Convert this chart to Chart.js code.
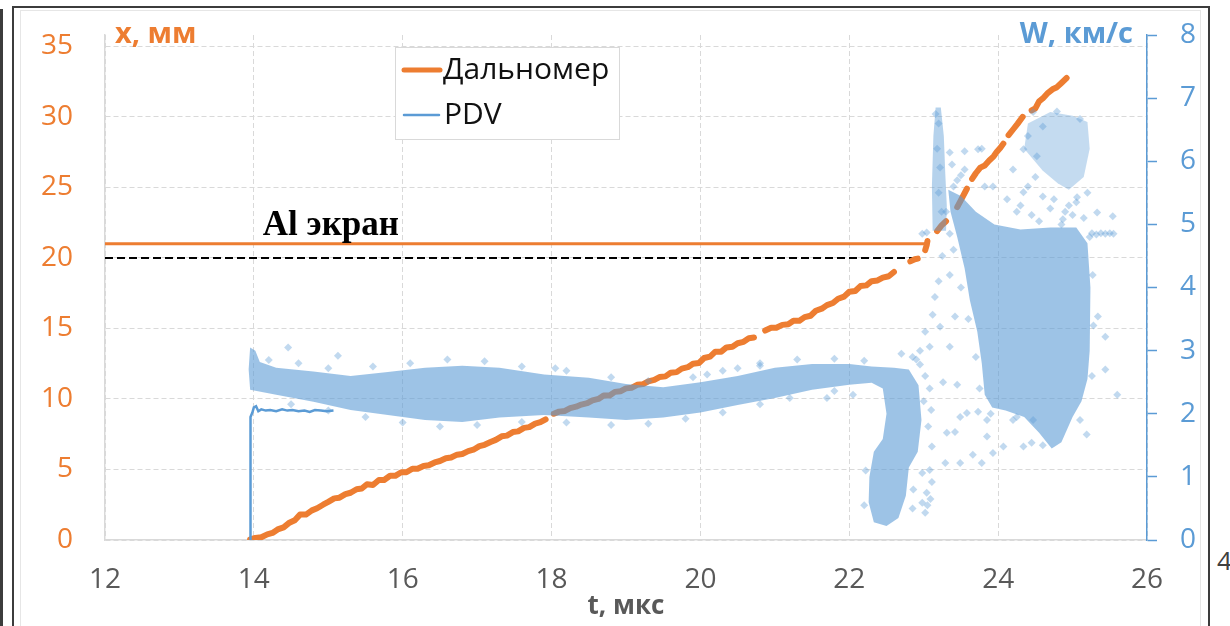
<!DOCTYPE html>
<html>
<head>
<meta charset="utf-8">
<script src="https://cdn.jsdelivr.net/npm/chart.js@4.4.1/dist/chart.umd.min.js"></script>
<style>
  html, body { margin: 0; padding: 0; background: #fff; width: 1230px; height: 626px; overflow: hidden; position: relative; }
  .edge { position: absolute; background: #3c3c3c; }
  #chart { position: absolute; left: 0; top: 0; }
</style>
</head>
<body>
<div class="edge" style="left:0;top:9px;width:3px;height:617px"></div>
<div class="edge" style="left:12px;top:6px;width:2px;height:620px"></div>
<div class="edge" style="left:12px;top:6px;width:1198px;height:2px"></div>
<div class="edge" style="left:1208px;top:6px;width:2px;height:620px"></div>
<div style="position:absolute;left:20px;top:10px;width:1179px;height:616px;border:1px solid #e6e6e6;border-bottom:none"></div>
<div style="position:absolute;left:1217px;top:542px;font:26px 'Open Sans';color:#404040">4</div>
<canvas id="chart" width="1230" height="626"></canvas>
<script>
const ORANGE = '#ED7D31';
const BLUE = '#5B9BD5';

// Дальномер: t (мкс) -> x (мм); null = gap in the record
const rangeT = [13.95,14.02,14.1,14.18,14.25,14.32,14.4,14.47,14.55,14.62,14.7,14.78,14.85,14.93,15.0,15.08,15.15,15.23,15.3,15.38,15.45,15.52,15.6,15.68,15.75,15.83,15.9,15.98,16.05,16.13,16.2,16.28,16.35,16.43,16.5,16.58,16.65,16.73,16.8,16.88,16.95,17.03,17.1,17.18,17.25,17.33,17.4,17.48,17.55,17.63,17.7,17.78,17.85,17.92,17.97,
  18.03,18.1,18.18,18.25,18.33,18.4,18.48,18.55,18.63,18.7,18.78,18.85,18.93,19.0,19.08,19.15,19.23,19.3,19.38,19.45,19.53,19.6,19.68,19.75,19.83,19.9,19.98,20.05,20.13,20.2,20.28,20.35,20.43,20.5,20.58,20.65,20.72,20.8,
  20.87,20.95,21.02,21.1,21.18,21.25,21.33,21.4,21.48,21.55,21.63,21.7,21.78,21.85,21.93,22.0,22.08,22.15,22.23,22.3,22.38,22.45,22.53,22.6,22.7,
  22.82,22.88,22.92,22.97,23.02,23.04,23.05,23.1,23.18,23.24,23.3,23.38,23.45,23.5,23.55,23.58,23.62,
  23.65,23.7,23.76,23.82,23.88,23.94,23.98,24.03,24.07,24.1,24.14,24.2,24.26,24.33,24.4,24.45,24.5,24.55,24.6,24.67,24.73,24.79,24.85,24.92];
const rangeX = [0.05,0.15,0.2,0.4,0.5,0.75,0.9,1.2,1.4,1.8,1.8,2.1,2.25,2.5,2.7,2.95,3.0,3.25,3.35,3.6,3.65,3.95,3.9,4.25,4.25,4.55,4.55,4.8,4.8,5.05,5.05,5.25,5.3,5.5,5.6,5.8,5.85,6.05,6.1,6.3,6.4,6.65,6.75,6.95,7.1,7.35,7.4,7.65,7.7,7.95,8.0,8.25,8.35,8.55,null,
  8.95,9.1,9.15,9.35,9.45,9.6,9.7,9.9,10.0,10.25,10.25,10.5,10.55,10.75,10.8,11.0,11.05,11.25,11.35,11.55,11.6,11.85,11.9,12.15,12.25,12.5,12.55,12.9,13.0,13.35,13.35,13.65,13.7,13.95,14.05,14.3,14.35,null,
  14.85,15.05,15.05,15.25,15.3,15.55,15.55,15.8,15.9,16.25,16.4,16.65,16.8,17.1,17.25,17.6,17.65,18.0,18.05,18.35,18.4,18.6,18.7,19.0,null,
  19.75,19.9,19.95,null,20.55,20.9,21.2,null,21.9,22.3,22.6,null,23.6,24.1,24.6,24.9,null,
  25.6,26.0,26.4,26.55,26.9,27.2,27.5,27.8,28.1,null,28.7,29.1,29.5,30.0,null,30.45,30.6,31.1,31.3,31.7,31.95,32.1,32.4,32.75];

// PDV: t (мкс) -> W (км/с)
const pdvT = [13.95,13.95,13.96,13.98,14.0,14.03,14.06,14.1,14.16,14.22,14.3,14.38,14.45,14.52,14.6,14.68,14.75,14.82,14.9,14.98,15.07];
const pdvW = [0,1.85,1.95,2.02,2.1,2.12,2.04,2.07,2.05,2.06,2.04,2.07,2.05,2.06,2.04,2.05,2.03,2.06,2.05,2.04,2.05];

// Al экран level and the 20 mm reference
const screenT = [12, 23.03];
const screenX = [21, 21];
const refT = [12, 22.95];
const refX = [20, 20];

// spectrogram cloud outlines (t, W)
const bandT = [13.95,13.93,13.95,14.02,14.08,14.3,14.8,15.3,15.8,16.3,16.8,17.3,17.9,18.5,19.0,19.5,20.0,20.5,21.0,21.5,22.0,22.3,22.6,22.8,22.93,22.97,22.92,22.8,22.76,22.66,22.5,22.33,22.26,22.27,22.33,22.45,22.5,22.45,22.3,22.0,21.5,21.0,20.5,20.0,19.5,19.0,18.5,17.9,17.3,16.8,16.3,15.8,15.3,14.8,14.3];
const bandW = [2.38,2.7,3.05,3.0,2.82,2.73,2.67,2.6,2.66,2.73,2.76,2.73,2.62,2.57,2.47,2.42,2.5,2.6,2.73,2.79,2.79,2.75,2.73,2.7,2.45,1.9,1.4,1.15,0.7,0.35,0.22,0.28,0.6,1.0,1.4,1.6,2.0,2.4,2.49,2.46,2.38,2.25,2.14,2.02,1.94,1.9,1.94,1.98,1.94,1.87,1.9,1.98,2.06,2.19,2.3];
const denseT = [23.33,23.5,23.7,23.95,24.3,24.7,25.05,25.2,25.24,25.23,25.2,25.12,25.0,24.85,24.72,24.55,24.35,24.1,23.92,23.82,23.78,23.72,23.62,23.55,23.45,23.36];
const denseW = [5.55,5.45,5.2,5.0,4.92,4.95,4.95,4.7,4.0,3.0,2.55,2.2,1.95,1.55,1.45,1.7,1.95,2.05,2.1,2.3,2.8,3.3,3.8,4.3,4.8,5.2];
const upperT = [24.4,24.7,25.0,25.2,25.23,25.15,24.95,24.8,24.6,24.35];
const upperW = [6.6,6.78,6.72,6.62,6.2,5.75,5.55,5.65,5.85,6.2];
const spikeT = [23.12,23.11,23.13,23.16,23.23,23.27,23.29,23.31,23.3];
const spikeW = [4.9,5.6,6.4,6.85,6.85,6.4,5.8,5.3,4.9];

// loose spectrogram points (t, W)
const looseT = [14.2,14.6,15.0,15.6,16.1,16.6,17.1,17.6,18.2,18.8,19.3,19.9,20.3,20.8,21.3,21.8,22.2,
  14.5,15.0,15.5,16.0,16.5,17.0,17.6,18.2,18.8,19.3,19.8,20.3,20.8,21.2,21.8,
  14.46,15.13,18.05,20.09,20.5,20.8,21.7,22.05,
  22.7,22.85,22.95,23.02,23.08,23.0,23.1,23.06,23.11,23.08,23.11,23.04,22.98,23.02,22.98,23.05,23.09,22.86,22.85,22.2,22.22,
  22.9,22.95,23.08,23.02,23.22,23.12,23.42,23.35,23.26,23.45,23.49,23.58,23.73,23.85,23.31,23.42,23.85,23.66,23.93,23.29,23.49,23.78,24.07,24.34,24.45,24.25,24.47,25.19,25.44,25.6,25.44,25.34,23.2,23.15,23.25,23.35,
  22.98,23.04,23.35,25.26,25.32,25.38,25.44,25.5,25.55,25.54,25.33,
  23.35,23.55,23.73,23.78,23.55,23.38,23.82,23.93,24.2,24.12,24.34,24.52,24.47,24.79,25.1,25.06,24.87,24.5,24.34,24.6,24.25,24.7,24.95,25.15,24.4,24.6,23.45,23.4,23.5,
  23.6,23.7,23.75,23.9,24.2,24.6,25.1,25.26,25.28,25.27,25.23,23.5,23.4,23.3,24.3,24.45,24.75,24.9,25.05,25.2,24.55,24.85,25.0,24.4,
  23.2,23.18,23.22,23.2,23.24,23.16];
const looseW = [2.85,2.8,2.72,2.75,2.8,2.86,2.83,2.75,2.68,2.58,2.52,2.58,2.68,2.8,2.86,2.87,2.84,
  2.15,2.05,1.95,1.86,1.8,1.82,1.87,1.86,1.82,1.84,1.92,2.02,2.15,2.25,2.36,
  3.05,2.92,2.72,2.62,2.72,2.76,2.25,2.3,
  2.95,2.9,2.78,2.6,2.4,2.2,2.06,1.8,1.48,1.11,0.92,0.75,0.59,0.43,1.06,0.55,0.65,0.8,0.5,0.55,1.1,
  2.86,3.0,3.06,3.3,3.38,3.57,3.54,3.06,2.5,2.46,1.95,2.01,2.03,1.9,1.7,1.71,1.64,1.35,1.38,1.22,1.22,1.22,1.48,1.48,1.54,1.95,1.9,1.67,2.7,2.3,3.22,3.54,4.1,3.85,4.5,4.2,
  4.85,4.87,4.85,4.86,4.84,4.86,4.85,4.86,4.85,5.13,5.19,
  6.14,6.16,6.19,6.2,5.87,5.95,5.6,5.6,5.87,5.4,6.19,6.08,6.78,6.79,6.67,5.43,5.08,5.75,5.51,5.44,5.2,5.25,5.3,5.1,6.4,6.55,5.7,5.6,5.78,
  3.5,2.9,2.4,2.0,1.9,1.5,1.9,2.6,3.4,4.2,4.8,4.0,4.6,5.2,5.3,5.15,5.4,5.2,5.35,5.5,5.05,5.0,5.15,5.6,
  6.6,6.2,5.9,5.5,5.2,6.75];

const xTicks = [12, 14, 16, 18, 20, 22, 24, 26];

function pairs(ts, vs) {
  return ts.map((t, i) => ({ x: t, y: vs[i] }));
}

function cloud(ts, vs, alpha) {
  return {
    data: pairs(ts, vs), yAxisID: 'y1', order: 0,
    fill: 'shape', backgroundColor: 'rgba(91,155,213,' + alpha + ')',
    borderColor: 'rgba(0,0,0,0)', borderWidth: 0, pointRadius: 0
  };
}

// fixed axis box sizes; label padding must not push the plot top down
function fixWidth(w) {
  return (scale) => {
    scale.width = w;
    scale.paddingTop = 0;
    scale.paddingBottom = 0;
  };
}

// titles, screen label and the in-plot legend
const annotations = {
  id: 'annotations',
  afterDraw(chart) {
    const { ctx, chartArea, scales } = chart;
    ctx.save();
    ctx.textBaseline = 'alphabetic';
    ctx.font = 'bold 29px "Open Sans"';
    ctx.fillStyle = ORANGE;
    ctx.textAlign = 'left';
    ctx.fillText('x, мм', chartArea.left + 10, 43);
    ctx.fillStyle = BLUE;
    ctx.textAlign = 'right';
    ctx.fillText('W, км/с', chartArea.right - 14, 43);

    ctx.font = 'bold 35px "Liberation Serif"';
    ctx.fillStyle = '#000';
    ctx.textAlign = 'left';
    ctx.fillText('Al экран', scales.x.getPixelForValue(14.12), scales.y.getPixelForValue(21.6));

    ctx.fillStyle = '#fff';
    ctx.fillRect(395, 47, 224, 92);
    ctx.strokeStyle = '#D9D9D9';
    ctx.lineWidth = 1;
    ctx.strokeRect(395.5, 47.5, 224, 92);
    ctx.lineCap = 'round';
    ctx.strokeStyle = ORANGE;
    ctx.lineWidth = 5;
    ctx.beginPath(); ctx.moveTo(404, 70); ctx.lineTo(440, 70); ctx.stroke();
    ctx.strokeStyle = BLUE;
    ctx.lineWidth = 2.5;
    ctx.beginPath(); ctx.moveTo(404, 115); ctx.lineTo(439, 115); ctx.stroke();
    ctx.font = '30px "Open Sans"';
    ctx.fillStyle = '#111';
    ctx.textBaseline = 'middle';
    ctx.fillText('Дальномер', 443, 70);
    ctx.fillText('PDV', 444, 115);
    ctx.restore();
  }
};

new Chart(document.getElementById('chart').getContext('2d'), {
  type: 'line',
  data: {
    datasets: [
      cloud(bandT, bandW, 0.6),
      cloud(denseT, denseW, 0.6),
      cloud(upperT, upperW, 0.36),
      cloud(spikeT, spikeW, 0.45),
      {
        data: pairs(looseT, looseW), yAxisID: 'y1', order: 0, showLine: false,
        pointStyle: 'rectRot', pointRadius: 4, borderWidth: 0,
        backgroundColor: 'rgba(91,155,213,0.38)', pointBorderColor: 'rgba(0,0,0,0)'
      },
      {
        label: 'PDV', data: pairs(pdvT, pdvW), yAxisID: 'y1', order: 1,
        borderColor: BLUE, borderWidth: 2.5, pointRadius: 0, fill: false
      },
      {
        label: 'Дальномер', data: pairs(rangeT, rangeX), yAxisID: 'y', order: 2,
        borderColor: ORANGE, borderWidth: 6, borderCapStyle: 'round', borderJoinStyle: 'round',
        pointRadius: 0, fill: false, spanGaps: false
      },
      {
        data: pairs(screenT, screenX), yAxisID: 'y', order: 3,
        borderColor: ORANGE, borderWidth: 3, pointRadius: 0, fill: false
      },
      {
        data: pairs(refT, refX), yAxisID: 'y', order: 3,
        borderColor: '#000', borderWidth: 2, borderDash: [8, 4], pointRadius: 0, fill: false
      }
    ]
  },
  options: {
    responsive: false,
    animation: false,
    events: [],
    layout: { padding: { top: 35, left: 0, right: 0, bottom: 0 } },
    plugins: { legend: { display: false }, tooltip: { enabled: false } },
    scales: {
      x: {
        type: 'linear', min: 12, max: 26,
        afterBuildTicks: (scale) => { scale.ticks = xTicks.map(v => ({ value: v })); },
        afterFit: (scale) => { scale.height = 86; },
        ticks: { color: '#595959', font: { family: 'Open Sans', size: 28 }, padding: 23 },
        grid: { color: '#D9D9D9', lineWidth: 1, drawTicks: false },
        border: { display: true, color: '#D9D9D9', width: 1.5, dash: [5, 3] },
        title: {
          display: true, text: 't, мкс', color: '#595959',
          font: { family: 'Open Sans', size: 26, weight: 'bold' }, padding: { top: 0, bottom: 4 }
        }
      },
      y: {
        position: 'left', min: 0, max: 35.8,
        afterFit: fixWidth(105),
        ticks: { stepSize: 5, includeBounds: false, color: ORANGE, font: { family: 'Open Sans', size: 28 }, padding: 32 },
        grid: { color: '#D9D9D9', lineWidth: 1, drawTicks: false },
        border: { display: true, color: '#D9D9D9', width: 1.5, dash: [5, 3] }
      },
      y1: {
        position: 'right', min: 0, max: 8,
        afterFit: fixWidth(83),
        ticks: { stepSize: 1, color: BLUE, font: { family: 'Open Sans', size: 28 }, padding: 23 },
        grid: { drawOnChartArea: false, drawTicks: true, tickLength: 10, tickColor: BLUE, tickWidth: 1.5 },
        border: { display: true, color: BLUE, width: 1.5 }
      }
    }
  },
  plugins: [annotations]
});
</script>
</body>
</html>
